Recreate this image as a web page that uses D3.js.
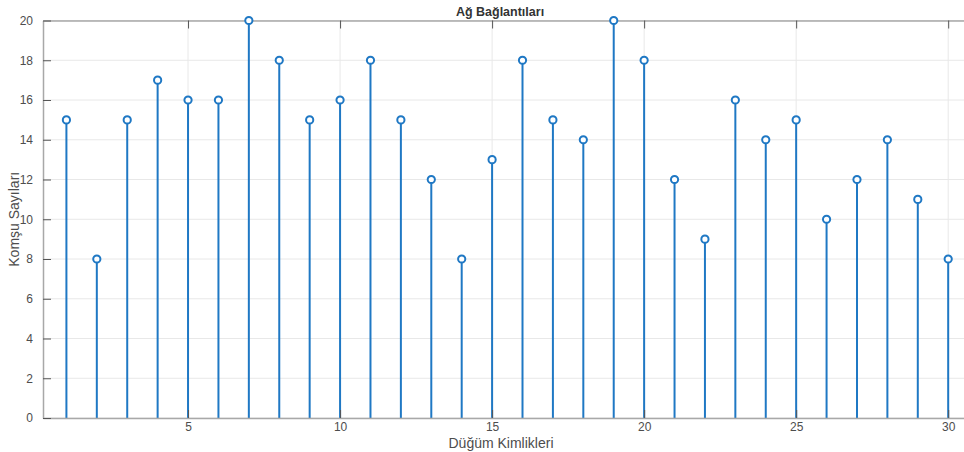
<!DOCTYPE html>
<html>
<head>
<meta charset="utf-8">
<script src="https://cdn.jsdelivr.net/npm/d3@7"></script>
<style>
  body { margin: 0; background: #fff; }
  svg { display: block; font-family: "Liberation Sans", Arial, sans-serif; }
  .tick text { fill: #4d4d4d; font-size: 12px; }
</style>
</head>
<body>
<div id="graph"></div>
<script>
const w = 964, h = 452;
const margin = { top: 20.5, bottom: 34, left: 43, right: -7 };

const nodeIds = d3.range(1, 31);
const neighbourCounts = [15, 8, 15, 17, 16, 16, 20, 18, 15, 16, 18, 15, 12, 8, 13,
  18, 15, 14, 20, 18, 12, 9, 16, 14, 15, 10, 12, 14, 11, 8];
const xTicks = [5, 10, 15, 20, 25, 30];
const yTicks = d3.range(0, 21, 2);
const blue = "#1f78c4";

const svg = d3.select("#graph").append("svg").attr("width", w).attr("height", h);

const x = d3.scaleLinear().domain([0.23, 30.75]).range([margin.left, w - margin.right]);
const y = d3.scaleLinear().domain([0, 20]).range([h - margin.bottom, margin.top]);

// grid
svg.append("g").selectAll("line").data(yTicks).enter().append("line")
  .attr("x1", x.range()[0]).attr("x2", x.range()[1])
  .attr("y1", d => y(d)).attr("y2", d => y(d))
  .attr("stroke", "#e8e8e8");
svg.append("g").selectAll("line").data(xTicks).enter().append("line")
  .attr("x1", d => x(d)).attr("x2", d => x(d))
  .attr("y1", y(0)).attr("y2", y(20))
  .attr("stroke", "#e8e8e8");

// stems
const stems = svg.append("g");
stems.selectAll("line").data(nodeIds).enter().append("line")
  .attr("x1", d => x(d)).attr("x2", d => x(d))
  .attr("y1", y(0)).attr("y2", (d, i) => y(neighbourCounts[i]))
  .attr("stroke", blue).attr("stroke-width", 2);

// axes
const xAxis = svg.append("g").attr("transform", `translate(0,${y(0)})`)
  .call(d3.axisBottom(x).tickValues(xTicks).tickSizeInner(-8).tickSizeOuter(0).tickPadding(4));
const xTop = svg.append("g").attr("transform", `translate(0,${y(20)})`)
  .call(d3.axisTop(x).tickValues(xTicks).tickSizeInner(-8).tickSizeOuter(0).tickFormat(""));
const yAxis = svg.append("g").attr("transform", `translate(${x.range()[0]},0)`)
  .call(d3.axisLeft(y).tickValues(yTicks).tickSizeInner(-8).tickSizeOuter(0).tickPadding(10));
[xAxis, xTop, yAxis].forEach(g => {
  g.select(".domain").attr("stroke", "#a8a8a8").attr("stroke-width", 1.5);
  g.selectAll(".tick line").attr("stroke", "#555");
});

// markers
svg.append("g").selectAll("circle").data(nodeIds).enter().append("circle")
  .attr("cx", d => x(d)).attr("cy", (d, i) => y(neighbourCounts[i]))
  .attr("r", 3.6).attr("fill", "#fff").attr("stroke", blue).attr("stroke-width", 2);

// labels
svg.append("text").attr("x", 500).attr("y", 16).attr("text-anchor", "middle")
  .attr("font-size", 12.5).attr("font-weight", "bold").attr("fill", "#333")
  .text("Ağ Bağlantıları");
svg.append("text").attr("x", 501).attr("y", 448).attr("text-anchor", "middle")
  .attr("font-size", 14).attr("fill", "#4d4d4d").text("Düğüm Kimlikleri");
svg.append("text").attr("transform", `translate(19,${y(10)}) rotate(-90)`)
  .attr("text-anchor", "middle").attr("font-size", 14).attr("fill", "#4d4d4d")
  .text("Komşu Sayıları");
</script>
</body>
</html>
